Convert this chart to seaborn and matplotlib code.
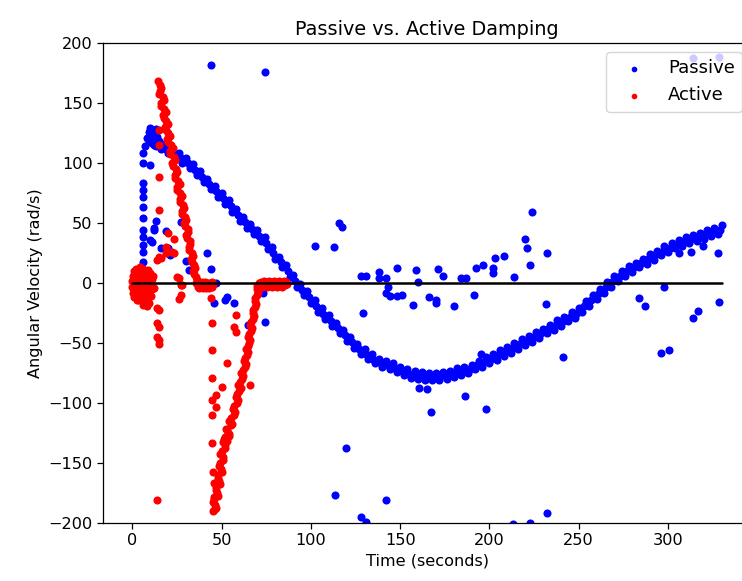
import numpy as np
import seaborn as sns
import matplotlib.pyplot as plt

# Passive damping: main band (upper/lower edge alternating)
passive_band_t = [10, 12, 14, 16, 18, 20, 22, 24, 26, 28, 30, 32, 34, 36, 38, 40, 42, 44, 46, 48,
                  50, 52, 54, 56, 58, 60, 62, 64, 66, 68, 70, 72, 74, 76, 78, 80, 82, 84, 86, 88,
                  90, 92, 94, 96, 98, 100, 102, 104, 106, 108, 110, 112, 114, 116, 118, 120, 122, 124, 126, 128,
                  130, 132, 134, 136, 138, 140, 142, 144, 146, 148, 150, 152, 154, 156, 158, 160, 162, 164, 166, 168,
                  170, 172, 174, 176, 178, 180, 182, 184, 186, 188, 190, 192, 194, 196, 198, 200, 202, 204, 206, 208,
                  210, 212, 214, 216, 218, 220, 222, 224, 226, 228, 230, 232, 234, 236, 238, 240, 242, 244, 246, 248,
                  250, 252, 254, 256, 258, 260, 262, 264, 266, 268, 270, 272, 274, 276, 278, 280, 282, 284, 286, 288,
                  290, 292, 294, 296, 298, 300, 302, 304, 306, 308, 310, 312, 314, 316, 318, 320, 322, 324, 326, 328, 330]
passive_band_v = [123, 115, 119, 112, 116, 108, 112, 104, 108, 100, 104, 96, 99, 90, 93, 84, 87, 78, 81, 72,
                  75, 66, 69, 59, 62, 52, 55, 46, 49, 41, 44, 35, 38, 28, 30, 20, 22, 13, 15, 5,
                  7, -3, -1, -10, -7, -17, -14, -24, -21, -30, -27, -36, -33, -42, -39, -48, -45, -54, -51, -59,
                  -55, -63, -59, -67, -63, -70, -65, -72, -67, -74, -70, -77, -72, -79, -73, -80, -74, -81, -75, -81,
                  -75, -81, -74, -80, -73, -78, -71, -77, -70, -75, -68, -72, -65, -70, -62, -67, -59, -64, -56, -61,
                  -53, -58, -50, -55, -47, -52, -44, -49, -41, -46, -38, -42, -35, -39, -31, -36, -28, -32, -24, -29,
                  -21, -24, -15, -19, -10, -13, -5, -8, 1, -3, 6, 2, 10, 6, 14, 9, 17, 13, 20, 16,
                  24, 19, 27, 23, 31, 26, 33, 29, 36, 31, 38, 33, 40, 35, 42, 37, 44, 39, 46, 41, 48]

# Passive damping: band centre, read at the odd seconds
passive_mid_t = [11, 13, 15, 17, 19, 21, 23, 25, 27, 29, 31, 33, 35, 37, 39, 41, 43, 45, 47, 49,
                 51, 53, 55, 57, 59, 61, 63, 65, 67, 69, 71, 73, 75, 77, 79, 81, 83, 85, 87, 89,
                 91, 93, 95, 97, 99, 101, 103, 105, 107, 109, 111, 113, 115, 117, 119, 121, 123, 125, 127, 129,
                 131, 133, 135, 137, 139, 141, 143, 145, 147, 149, 151, 153, 155, 157, 159, 161, 163, 165, 167, 169,
                 171, 173, 175, 177, 179, 181, 183, 185, 187, 189, 191, 193, 195, 197, 199, 201, 203, 205, 207, 209,
                 211, 213, 215, 217, 219, 221, 223, 225, 227, 229, 231, 233, 235, 237, 239, 241, 243, 245, 247, 249,
                 251, 253, 255, 257, 259, 261, 263, 265, 267, 269, 271, 273, 275, 277, 279, 281, 283, 285, 287, 289,
                 291, 293, 295, 297, 299, 301, 303, 305, 307, 309, 311, 313, 315, 317, 319, 321, 323, 325, 327, 329]
passive_mid_v = [119, 117, 115.5, 114, 112, 110, 108, 106, 104, 102, 100, 97.5, 94.5, 91.5, 88.5, 85.5, 82.5, 79.5, 76.5, 73.5,
                 70.5, 67.5, 64, 60.5, 57, 53.5, 50.5, 47.5, 45, 42.5, 39.5, 36.5, 33, 29, 25, 21, 17.5, 14, 10, 6,
                 2, -2, -5.5, -8.5, -12, -15.5, -19, -22.5, -25.5, -28.5, -31.5, -34.5, -37.5, -40.5, -43.5, -46.5, -49.5, -52.5, -55, -57,
                 -59, -61, -63, -65, -66.5, -67.5, -68.5, -69.5, -70.5, -72, -73.5, -74.5, -75.5, -76, -76.5, -77, -77.5, -78, -78, -78,
                 -78, -77.5, -77, -76.5, -75.5, -74.5, -74, -73.5, -72.5, -71.5, -70, -68.5, -67.5, -66, -64.5, -63, -61.5, -60, -58.5, -57,
                 -55.5, -54, -52.5, -51, -49.5, -48, -46.5, -45, -43.5, -42, -40, -38.5, -37, -35, -33.5, -32, -30, -28, -26.5, -25,
                 -22.5, -19.5, -17, -14.5, -11.5, -9, -6.5, -3.5, -1, 1.5, 4, 6, 8, 10, 11.5, 13, 15, 16.5, 18, 20,
                 21.5, 23, 25, 27, 28.5, 29.5, 31, 32.5, 33.5, 34.5, 35.5, 36.5, 37.5, 38.5, 39.5, 40.5, 41.5, 42.5, 43.5, 44.5]

# Passive damping: start-up cluster, rising column and stray samples
passive_spread_t = [8, 9, 10, 11, 12, 13, 14, 11, 13, 15, 16, 9, 7,
                    6, 6, 6, 6, 6, 6, 6, 6, 6, 6, 6, 6, 6,
                    9.6, 13, 12, 11, 12, 10, 16, 20, 21, 19, 27, 31.5, 30, 41.6, 44, 46.7, 53, 45.5, 52, 57,
                    65, 74, 73, 44, 74, 102, 113, 115.7, 117.4, 128, 131, 138, 138, 142, 143, 142, 144, 148,
                    148, 151, 157, 159, 160, 166, 170, 170, 171, 174, 180, 184, 187, 191.6, 192.7, 196.6,
                    201.7, 201.7, 203, 208, 213.5, 219.7, 221, 222.5, 223.6, 232, 231.5, 129, 241, 195.5,
                    160.7, 165, 167.4, 186.5, 198, 119.7, 113.5, 142, 128, 131, 213, 222.5, 232, 298, 284,
                    287, 314, 317, 328.7, 296, 300.6, 328, 313, 306, 319.6, 314, 328.6]
passive_spread_v = [121, 126, 129, 127, 124, 128, 122, 117, 114, 118, 116, 118, 114,
                    108, 100, 83, 77.5, 72, 63, 54, 44, 38, 32, 26, 17.5, 11,
                    98, 52, 46, 34, 44, 36, 29, 29, 23, 43, 51, 11, 18, 25, 12, 0, -12, -17, -14, -17,
                    -35, -32.5, -8, 181.7, 176, 31, 30, 50, 47, 6, 6, 9, 4, 4, -3, -8, -11, 12.5,
                    -11, -10, -18, 11, 1, -12, -14, -17, 11.5, 6, -19, 4, 4, -10, 12.5, 15,
                    12.5, 8, 21, 22.5, 5, 36.7, 29, 15, 59, 25, -17.5, -25, -61.5, -59,
                    -87.5, -88, -107.5, -94, -105, -137.5, -176.7, -181, -195, -199, -201, -200, -192, -3, -12.5,
                    -19, -29, -23, -16, -58, -56, 25, 26, 25, 31, 187.5, 188]

# Active damping: noisy blob at the start
active_blob_t = [0, 0, 0.5, 0.5, 1, 1, 1, 1.5, 1.5, 2, 2, 2, 2.5, 2.5, 3, 3, 3, 3.5, 3.5, 4,
                 4, 4, 4.5, 4.5, 5, 5, 5, 5.5, 5.5, 6, 6, 6, 6.5, 6.5, 7, 7, 7.5, 7.5, 8, 8,
                 8.5, 8.5, 9, 9, 9.5, 9.5, 10, 10, 10.5, 11, 11, 3, 6, 8, 11.5, 12]
active_blob_v = [2, -3, 6, -8, 10, 0, -12, 4, -5, 12, -2, -9, 7, -14, 1, 10, -6, -11, 5, 13,
                 -3, -8, 8, 0, -13, 11, 3, -6, 6, 12, -1, -10, 4, -15, 9, -5, 1, -12, 7, -3,
                 11, -8, 2, -17, 5, -7, -2, 8, -11, 3, -5, -14, -18, -19, 6, -4]

# Active damping: fall from the peak down to zero
active_fall_t = [14.5, 15.6, 15.4, 16.9, 16.2, 17.7, 17.1, 18.7, 18.1, 20.0, 19.6, 21.5, 21.0, 23.0, 22.3,
                 24.2, 23.6, 25.4, 24.9, 26.8, 26.4, 28.3, 27.8, 29.4, 29.0, 30.9, 30.2, 32.0, 31.5, 33.2,
                 32.6, 34.4, 34.0, 35.6, 35.5,
                 16.2, 14.8, 17.5, 16.1, 18.8, 17.4, 20.0, 18.7, 21.3, 20.0, 22.6, 21.2, 23.9, 22.5, 25.2,
                 23.8, 26.4, 25.1, 27.7, 26.4, 29.0, 28.0, 29.9, 29.3, 31.2, 30.6, 32.4, 31.9, 33.7, 33.2,
                 35.0, 34.4, 36.3]
active_fall_v = [168, 165, 160, 155, 150, 145, 140, 135, 130, 125, 120, 115, 110, 105, 100,
                 95, 90, 85, 80, 75, 70, 65, 60, 55, 50, 45, 40, 35, 30, 25,
                 20, 15, 10, 5, 0,
                 162.5, 157.5, 152.5, 147.5, 142.5, 137.5, 132.5, 127.5, 122.5, 117.5, 112.5, 107.5, 102.5, 97.5, 92.5,
                 87.5, 82.5, 77.5, 72.5, 67.5, 62.5, 57.5, 52.5, 47.5, 42.5, 37.5, 32.5, 27.5, 22.5, 17.5,
                 12.5, 7.5, 2.5]

# Active damping: first rest period
active_rest1_t = [36.5, 37, 37.5, 38, 38.5, 39, 39.5, 40, 40.5, 41, 41.5, 42, 42.5, 43, 43.5, 44, 44.5, 45,
                  36.8, 37.8, 38.8, 39.8, 40.8, 41.8, 42.8, 43.8, 44.8]
active_rest1_v = [-3, 1, -4, 0, -3, -1, -4, 0, -2, -4, 0, -3, -1, -4, -2, 0, -3, -1,
                  -1, -2, 1, -3, 1, -2, 0, -3, 1]

# Active damping: drop to the negative peak and recovery
active_rise_t = [45.3, 46.3, 45.8, 47.2, 46.8, 48.6, 48.0, 49.6, 48.9, 50.5, 50.0, 51.8, 51.5, 53.5, 52.5,
                 55.0, 54.3, 56.8, 56.6, 58.4, 57.9, 59.9, 59.4, 61.5, 60.9, 62.8, 62.3, 64.2, 63.7, 65.4,
                 64.9, 66.6, 66.1, 67.8, 67.3, 68.9, 68.4, 69.9, 69.6, 70.8, 52, 53, 54,
                 46.7, 45.3, 48.0, 46.6, 49.3, 47.7, 50.1, 48.5, 50.9, 49.3, 51.9, 50.9, 53.9, 52.9, 55.9,
                 55.0, 57.3, 57.1, 58.9, 58.8, 60.6, 60.4, 62.1, 61.8, 63.5, 63.2, 64.9, 64.5, 66.0, 65.5,
                 67.0, 66.5, 68.0, 67.6, 69.2, 68.8, 70.4, 70.0]
active_rise_v = [-190, -185, -180, -175, -170, -165, -160, -155, -150, -145, -140, -135, -130, -125, -122,
                 -118, -115, -110, -105, -100, -95, -90, -85, -80, -75, -70, -65, -60, -55, -50,
                 -45, -40, -35, -30, -25, -20, -15, -10, -5, 0, -128, -132, -126,
                 -187.5, -182.5, -177.5, -172.5, -167.5, -162.5, -157.5, -152.5, -147.5, -142.5, -137.5, -132.5, -127.5, -122.5, -117.5,
                 -112.5, -107.5, -102.5, -97.5, -92.5, -87.5, -82.5, -77.5, -72.5, -67.5, -62.5, -57.5, -52.5, -47.5, -42.5,
                 -37.5, -32.5, -27.5, -22.5, -17.5, -12.5, -7.5, -2.5]

# Active damping: second rest period
active_rest2_t = [71.2, 71.9, 72.6, 73.3, 74.0, 74.7, 75.4, 76.1, 76.8, 77.5, 78.2, 78.9, 79.6, 80.3,
                  81.0, 81.7, 82.4, 83.1, 83.8, 84.5, 85.2, 85.9,
                  71.5, 72.3, 73.6, 75.0, 76.4, 77.8, 79.2, 80.6, 82.0, 83.4, 84.8, 86.3]
active_rest2_v = [-2, 1, -3, 0, -2, 1, -3, 0, -2, 1, -3, 0, -2, 1, -3, 0, -2, 1, -3, 0, -2, 1,
                  0, -1, 2, -1, 2, -1, 2, -1, 2, -1, 2, -1]

# Active damping: stray samples
active_spread_t = [13.5, 14.6, 13.5, 14.6, 13.5, 14.6, 14.6, 13.5, 26, 27, 27, 14.6, 16, 19, 23,
                   15, 15, 15, 14, 15, 20, 23, 22, 19, 25, 27.5, 26,
                   44, 44.5, 44.5, 44.5, 44.5, 44.5, 44.5, 45, 45.5, 45.5, 45.5,
                   53, 50, 47, 47, 58, 57, 58, 66]
active_spread_v = [-21, -22.5, -33, -37, -45, -47.5, -51, -181, 4, -2, -10, 22, 21, 25, 25,
                   115, 88, 61, 19, 127.5, 42, 37, 26, 30, 5, -2, -13,
                   -12.5, -33, -56, -79, -97.5, -110, -133, -157.5, -167, -178, -189,
                   -67, -87, -93, -103, -27, -37, -41, -85]

# Zero reference line
zero_t = [0, 330]
zero_v = [0, 0]

passive_t = passive_band_t + passive_mid_t + passive_spread_t
passive_v = passive_band_v + passive_mid_v + passive_spread_v
active_t = active_blob_t + active_fall_t + active_rest1_t + active_rise_t + active_rest2_t + active_spread_t
active_v = active_blob_v + active_fall_v + active_rest1_v + active_rise_v + active_rest2_v + active_spread_v

sns.set_style("ticks", {"axes.edgecolor": "black", "xtick.color": "black", "ytick.color": "black",
                        "text.color": "black", "axes.labelcolor": "black"})
plt.rcParams['font.family'] = ['DejaVu Sans']

fig = plt.figure(figsize=(7.42, 5.81), dpi=100)
ax = fig.add_axes([103 / 742, 58 / 581, 648 / 742, 480 / 581])

sns.scatterplot(x=passive_t, y=passive_v, color='blue', s=34, linewidth=0, label='Passive', ax=ax)
sns.scatterplot(x=active_t, y=active_v, color='red', s=34, linewidth=0, label='Active', ax=ax)
sns.lineplot(x=zero_t, y=zero_v, color='black', linewidth=1.8, ax=ax)

ax.set_xlim(-16.5, 346.5)
ax.set_ylim(-200, 200)
ax.set_xticks([0, 50, 100, 150, 200, 250, 300])
ax.set_yticks([-200, -150, -100, -50, 0, 50, 100, 150, 200])
ax.tick_params(labelsize=11.6, length=4, width=0.9)
for sp in ax.spines.values():
    sp.set_linewidth(0.9)

ax.set_title("Passive vs. Active Damping", fontsize=13.9)
ax.set_xlabel("Time (seconds)", fontsize=11.6)
ax.set_ylabel("Angular Velocity (rad/s)", fontsize=11.6)
ax.legend(loc='upper right', fontsize=13, handlelength=2.2, markerscale=0.7)

fig.savefig("out.png", dpi=100)
